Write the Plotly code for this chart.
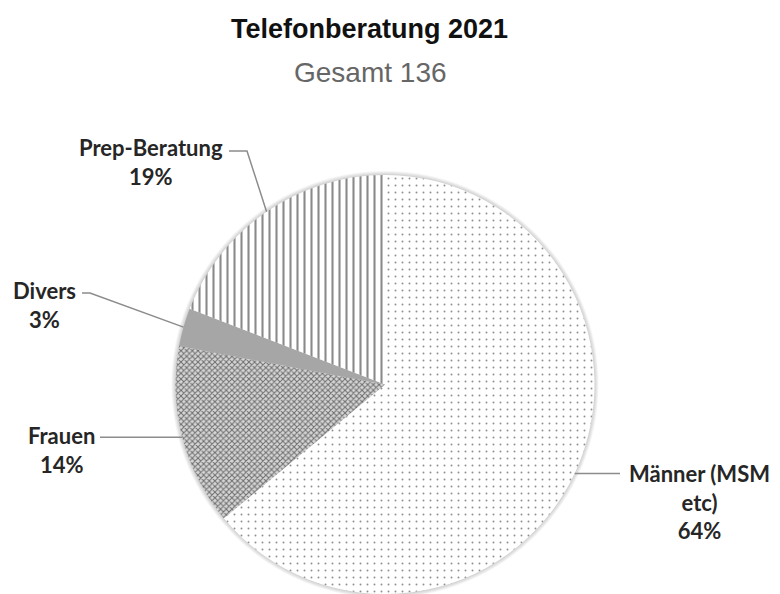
import math
import plotly.graph_objects as go

# --- data -------------------------------------------------------------
categories = ["Männer (MSM etc)", "Frauen", "Divers", "Prep-Beratung"]
counts = [87, 19, 4, 26]
title_text = "Telefonberatung 2021"
subtitle_label = "Gesamt"

# --- styling per slice -------------------------------------------------
pattern_shapes = [".", "x", "", "|"]
pattern_fg = ["#8f8f8f", "#6e6e6e", "#a6a6a6", "#8a8a8a"]
pattern_bg = ["#ffffff", "#d6d6d6", "#a6a6a6", "#ffffff"]
pattern_size = [7, 4, 8, 7]
pattern_solidity = [0.06, 0.45, 0.5, 0.3]

W, H = 780, 594
total = sum(counts)
shares = [c / total for c in counts]
percents = [round(s * 100) for s in shares]

# pie geometry in pixels (origin top-left)
pie_top = 175
r = (H - pie_top) / 2
cx, cy = 385, H - r


def px(x):
    return x / W


def py(y):
    return 1 - y / H


fig = go.Figure()

fig.add_trace(go.Pie(
    labels=categories,
    values=counts,
    sort=False,
    direction="clockwise",
    rotation=0,
    textinfo="none",
    hoverinfo="label+value+percent",
    showlegend=False,
    domain=dict(x=[px(cx - r - 3), px(cx + r + 3)], y=[0, py(pie_top)]),
    marker=dict(
        colors=pattern_bg,
        line=dict(width=0),
        pattern=dict(
            shape=pattern_shapes,
            fgcolor=pattern_fg,
            bgcolor=pattern_bg,
            size=pattern_size,
            solidity=pattern_solidity,
            fillmode="replace",
        ),
    ),
))

shapes = []
# soft halo around the pie
for k in range(1, 5):
    shapes.append(dict(
        type="circle", xref="paper", yref="paper", layer="below",
        x0=px(cx - r - k), x1=px(cx + r + k),
        y0=py(cy + r + k), y1=py(cy - r - k),
        fillcolor="rgba(0,0,0,0.045)", line=dict(width=0),
    ))

# label placement: text centre and leader-line bends (pixels)
label_layout = {
    "Männer (MSM etc)": dict(text_xy=(699, 502), bends=[(620, None)]),
    "Frauen": dict(text_xy=(61, 450), bends=[(100, None)]),
    "Divers": dict(text_xy=(44, 305), bends=[(90, 293), (82, 293)]),
    "Prep-Beratung": dict(text_xy=(151, 162), bends=[(247, 151), (229, 151)]),
}

annotations = []
start = 0.0
for name, share, pct in zip(categories, shares, percents):
    mid = (start + share / 2) * 2 * math.pi
    start += share
    ex = cx + r * math.sin(mid)
    ey = cy - r * math.cos(mid)
    spec = label_layout[name]
    pts = [(ex, ey)]
    for bx, by in spec["bends"]:
        pts.append((bx, ey if by is None else by))
    path = "M " + " L ".join(f"{px(x):.5f},{py(y):.5f}" for x, y in pts)
    shapes.append(dict(type="path", xref="paper", yref="paper", path=path,
                       line=dict(color="#8c8c8c", width=1.5), layer="above"))
    label = name.replace(" etc", "<br>etc")
    tx, ty = spec["text_xy"]
    annotations.append(dict(
        x=px(tx), y=py(ty), xref="paper", yref="paper",
        xanchor="center", yanchor="middle", showarrow=False,
        text=f"<b>{label}<br>{pct}%</b>", align="center",
        font=dict(family="Lato", size=22, color="#262626"),
    ))

annotations.append(dict(
    x=px(369), y=py(29), xref="paper", yref="paper",
    xanchor="center", yanchor="middle", showarrow=False,
    text=f"<b>{title_text}</b>",
    font=dict(family="Liberation Sans", size=27, color="#111111"),
))
annotations.append(dict(
    x=px(370), y=py(72), xref="paper", yref="paper",
    xanchor="center", yanchor="middle", showarrow=False,
    text=f"{subtitle_label} {total}",
    font=dict(family="Liberation Sans", size=28, color="#666666"),
))

fig.update_layout(
    width=W, height=H,
    margin=dict(l=0, r=0, t=0, b=0),
    paper_bgcolor="white",
    plot_bgcolor="white",
    shapes=shapes,
    annotations=annotations,
)

fig.write_html("out.html")
